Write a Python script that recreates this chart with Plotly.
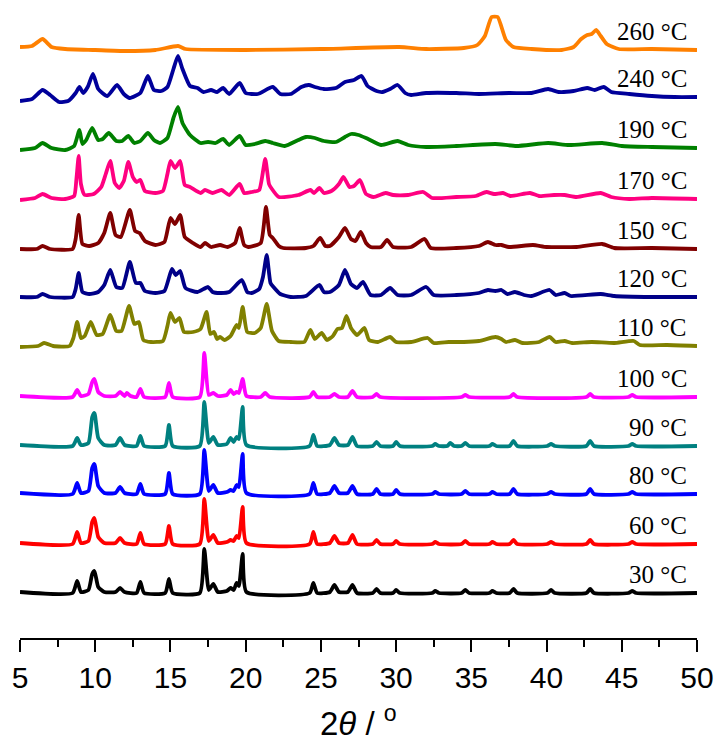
import plotly.graph_objects as go

# Temperatures (labels), colours and vertical stacking offsets (bottom to top)
temps = ["30 °C", "60 °C", "80 °C", "90 °C", "100 °C", "110 °C",
         "120 °C", "150 °C", "170 °C", "190 °C", "240 °C", "260 °C"]
offsets = [45, 94, 144, 192, 241, 292, 341, 389, 439, 490, 541, 588]
colors = ["#000000", "#FF0000", "#0000FF", "#008080", "#FF00FF", "#808000",
          "#000088", "#800000", "#FF0080", "#008000", "#00009A", "#FF8000"]

# Pattern vertices: (2theta, intensity above baseline)
p30 = [(5.0,1),(8.5,0),(8.8,12),(9.05,1),(9.55,3),(9.8,19),(9.95,22),(10.2,6),(10.6,1),(11.35,1),(11.65,5),(11.95,1),
       (12.75,0),(13.0,11),(13.25,0),(14.65,0),(14.9,14),(15.15,0),(16.95,0),(17.25,44),(17.55,3),(17.85,9),(18.15,1),
       (18.75,2),(19.0,5),(19.2,3),(19.4,10),(19.55,7),(19.8,39),(20.05,1),(24.25,0),(24.5,10),(24.75,0),(25.6,1),
       (25.9,8),(26.2,1),(26.8,1),(27.1,8),(27.4,0),(28.45,0),(28.7,4),(28.95,0),(29.8,0),(30.0,3),(30.25,0),(32.4,0),
       (32.6,2),(32.85,0),(34.35,0),(34.6,3),(34.85,0),(36.2,0),(36.4,2),(36.65,0),(37.55,0),(37.8,4),(38.05,0),
       (40.05,0),(40.3,3),(40.55,0),(42.65,0),(42.9,4),(43.15,0),(45.45,0),(45.7,2),(45.95,0),(50.0,0)]
p60 = [(5.0,1),(8.5,0),(8.8,12),(9.05,1),(9.55,3),(9.8,22),(9.95,26),(10.2,7),(10.6,1),(11.35,1),(11.65,6),(11.95,1),
       (12.75,0),(13.0,11),(13.25,0),(14.65,0),(14.9,18),(15.15,0),(16.95,0),(17.25,45),(17.55,3),(17.85,9),(18.15,1),
       (18.75,2),(19.0,4),(19.2,3),(19.4,8),(19.55,6),(19.8,37),(20.05,1),(24.25,0),(24.5,12),(24.75,0),(25.6,1),
       (25.9,8),(26.2,1),(26.8,1),(27.1,9),(27.4,0),(28.45,0),(28.7,4),(28.95,0),(29.8,0),(30.0,3),(30.25,0),(32.4,0),
       (32.6,2),(32.85,0),(34.35,0),(34.6,3),(34.85,0),(36.2,0),(36.4,2),(36.65,0),(37.55,0),(37.8,4),(38.05,0),
       (40.05,0),(40.3,2),(40.55,0),(42.65,0),(42.9,4),(43.15,0),(45.45,0),(45.7,2),(45.95,0),(50.0,0)]
p80 = [(5.0,1),(8.5,0),(8.8,11),(9.05,1),(9.55,3),(9.8,26),(9.95,30),(10.2,8),(10.6,1),(11.35,1),(11.65,7),(11.95,1),
       (12.75,0),(13.0,10),(13.25,0),(14.65,0),(14.9,21),(15.15,0),(16.95,0),(17.25,44),(17.55,3),(17.85,9),(18.15,1),
       (18.75,2),(19.0,4),(19.2,3),(19.4,9),(19.55,7),(19.8,40),(20.05,1),(24.25,0),(24.5,11),(24.75,0),(25.6,1),
       (25.9,8),(26.2,1),(26.8,1),(27.1,8),(27.4,0),(28.45,0),(28.7,5),(28.95,0),(29.8,0),(30.0,4),(30.25,0),(32.4,0),
       (32.6,2),(32.85,0),(34.35,0),(34.6,3),(34.85,0),(36.2,0),(36.4,2),(36.65,0),(37.55,0),(37.8,5),(38.05,0),
       (40.05,0),(40.3,2),(40.55,0),(42.65,0),(42.9,5),(43.15,0),(45.45,0),(45.7,2),(45.95,0),(50.0,0)]
p90 = [(5.0,1),(8.5,0),(8.8,8),(9.05,1),(9.55,3),(9.8,29),(9.95,33),(10.2,8),(10.6,1),(11.35,1),(11.65,8),(11.95,1),
       (12.75,0),(13.0,10),(13.25,0),(14.65,0),(14.9,21),(15.15,0),(16.95,0),(17.25,44),(17.55,3),(17.85,9),(18.15,1),
       (18.75,2),(19.0,8),(19.2,4),(19.4,9),(19.55,7),(19.8,39),(20.05,1),(24.25,0),(24.5,11),(24.75,0),(25.6,1),
       (25.9,8),(26.2,1),(26.8,1),(27.1,9),(27.4,0),(28.45,0),(28.7,4),(28.95,0),(29.8,0),(30.0,4),(30.25,0),(32.4,0),
       (32.6,2),(32.85,0),(33.4,0),(33.6,3),(33.85,0),(34.35,0),(34.6,3),(34.85,0),(36.2,0),(36.4,2),(36.65,0),
       (37.55,0),(37.8,5),(38.05,0),(40.05,0),(40.3,2),(40.55,0),(42.65,0),(42.9,5),(43.15,0),(45.45,0),(45.7,2),
       (45.95,0),(50.0,0)]
p100 = [(5.0,1),(8.5,0),(8.8,7),(9.05,1),(9.55,3),(9.8,15),(9.95,18),(10.2,5),(10.6,1),(11.35,1),(11.65,5),(11.95,1),
        (12.1,4),(12.35,1),(12.75,0),(13.0,8),(13.25,0),(14.65,0),(14.9,14),(15.15,0),(16.95,0),(17.25,44),(17.55,2),
        (17.85,4),(18.15,1),(18.75,2),(19.0,7),(19.2,3),(19.4,5),(19.55,4),(19.8,18),(20.05,1),(21.0,0),(21.3,4),
        (21.6,0),(24.25,0),(24.5,5),(24.75,0),(25.6,0),(25.9,3),(26.2,0),(26.8,0),(27.1,6),(27.4,0),(28.45,0),(28.7,3),
        (28.95,0),(34.35,0),(34.6,2),(34.85,0),(37.55,0),(37.8,3),(38.05,0),(42.65,0),(42.9,3),(43.15,0),(45.45,0),
        (45.7,2),(45.95,0),(50.0,0)]
p110 = [(5.0,-1),(6.2,0),(6.6,3),(7.2,0),(8.3,0),(8.55,8),(8.8,24),(9.05,8),(9.3,10),(9.7,24),(10.1,11),(10.5,12),
        (11.0,31),(11.4,15),(11.75,15),(12.25,40),(12.6,22),(12.9,24),(13.2,6),(13.7,4),(14.5,5),(14.8,20),(15.0,33),
        (15.3,24),(15.6,28),(15.9,14),(16.5,14),(17.0,17),(17.4,34),(17.65,12),(17.9,14),(18.1,7),(18.3,9),(18.6,6),
        (19.0,10),(19.4,21),(19.55,18),(19.8,39),(20.1,14),(20.6,13),(21.0,18),(21.4,42),(21.75,15),(22.2,5),(23.0,4),
        (23.9,4),(24.3,16),(24.6,7),(25.05,13),(25.4,6),(25.8,10),(26.1,17),(26.4,18),(26.7,30),(27.0,18),(27.4,11),
        (27.9,18),(28.2,6),(28.8,4),(29.6,9),(30.0,4),(31.0,4),(32.1,8),(32.5,3),(33.5,4),(34.5,4),(35.5,5),(36.6,9),
        (37.0,7),(37.3,4),(37.9,6),(38.4,3),(39.5,4),(40.2,9),(40.6,4),(41.2,5),(41.7,3),(43.0,4),(44.5,3),(45.8,5),
        (46.2,1),(48.0,1),(50.0,0)]
p120 = [(5.0,0),(6.1,0),(6.5,3),(7.0,0),(8.5,0),(8.7,8),(8.9,24),(9.15,5),(9.6,3),(10.2,5),(10.6,12),(11.0,27),
        (11.4,10),(11.8,9),(12.3,35),(12.7,14),(13.0,14),(13.3,6),(14.0,4),(14.6,6),(15.1,28),(15.35,22),(15.65,26),
        (16.0,9),(16.8,5),(17.5,10),(17.8,5),(18.3,4),(18.9,5),(19.75,17),(20.1,5),(20.4,4),(20.9,8),(21.15,20),
        (21.4,42),(21.65,14),(21.85,10),(22.3,3),(23.0,0),(24.0,1),(24.9,12),(25.2,5),(25.6,5),(26.2,12),(26.6,27),
        (27.0,13),(27.4,9),(27.8,15),(28.3,2),(29.0,2),(29.6,9),(30.1,2),(31.0,2),(32.0,10),(32.5,2),(34.0,2),
        (35.5,4),(36.1,7),(36.6,6),(37.0,7),(37.4,3),(37.9,5),(38.5,2),(39.0,1),(40.2,7),(40.6,2),(41.2,4),(41.6,1),
        (43.6,3),(44.5,1),(47.0,0),(50.0,0)]
p150 = [(5.0,0),(6.1,0),(6.5,3),(7.0,0),(8.5,0),(8.7,10),(8.9,34),(9.15,5),(9.6,3),(10.2,6),(10.6,16),(11.0,36),
        (11.35,14),(11.7,12),(12.3,39),(12.65,18),(12.95,16),(13.3,8),(14.0,4),(14.6,7),(15.0,31),(15.3,25),
        (15.65,34),(15.95,12),(16.5,6),(17.0,2),(17.3,6),(17.7,2),(18.3,4),(18.8,2),(19.3,6),(19.6,21),(19.9,4),
        (20.2,2),(21.0,6),(21.35,42),(21.6,14),(21.8,11),(22.2,3),(22.5,1),(24.0,1),(24.5,3),(24.95,11),(25.3,3),
        (25.6,3),(26.2,12),(26.6,21),(27.0,10),(27.3,8),(27.65,17),(28.0,6),(28.3,2),(29.0,2),(29.4,9),(29.8,2),
        (31.0,2),(31.9,10),(32.3,1),(34.0,1),(35.5,3),(36.1,7),(36.6,4),(37.0,4),(37.5,2),(39.1,4),(40.0,2),
        (42.0,2),(43.7,5),(44.5,1),(47.0,1),(50.0,0)]
p170 = [(5.0,-1),(6.0,1),(6.5,5),(7.1,1),(8.0,0),(8.6,3),(8.75,20),(8.9,43),(9.05,15),(9.3,4),(9.9,5),(10.4,12),
        (10.7,25),(11.0,38),(11.3,16),(11.6,11),(11.9,18),(12.2,37),(12.5,22),(12.75,17),(13.0,19),(13.3,8),(14.0,6),
        (14.5,8),(14.8,25),(15.0,38),(15.3,31),(15.65,38),(15.95,14),(16.3,12),(17.0,6),(17.3,9),(17.8,6),(18.4,9),
        (18.9,4),(19.6,15),(19.9,6),(20.4,7),(20.9,9),(21.3,40),(21.55,15),(21.7,11),(22.2,2),(23.5,4),(24.3,9),
        (24.55,6),(24.9,11),(25.2,6),(25.7,8),(26.2,15),(26.5,22),(26.9,12),(27.2,13),(27.6,19),(28.0,5),(28.5,2),
        (29.3,6),(29.8,4),(30.8,4),(31.8,7),(32.4,1),(34.0,2),(35.3,3),(36.0,7),(36.5,5),(37.1,6),(37.6,3),(38.9,6),
        (39.5,3),(40.5,4),(41.2,4),(42.0,2),(43.6,6),(44.3,2),(45.5,0),(47.0,1),(50.0,0)]
p190 = [(5.0,-2),(6.0,0),(6.5,5),(7.1,0),(8.0,-2),(8.6,2),(8.95,18),(9.15,4),(9.4,8),(9.8,20),(10.2,8),(10.5,9),
        (10.9,15),(11.4,7),(11.8,7),(12.2,12),(12.6,5),(13.0,7),(13.5,15),(13.9,8),(14.3,5),(14.8,10),(15.2,30),
        (15.5,41),(15.8,25),(16.3,13),(17.0,5),(17.5,6),(18.0,5),(18.5,9),(18.9,3),(19.6,12),(20.0,3),(20.6,4),
        (21.3,7),(21.8,5),(22.6,2),(23.5,8),(24.0,11),(24.6,10),(25.2,7),(26.0,6),(26.6,11),(27.0,14),(27.5,13),
        (28.0,10),(29.0,3),(30.1,7),(30.8,3),(32.0,1),(34.0,2),(36.6,4),(38.0,2),(40.1,5),(41.5,3),(43.7,5),(45.0,2),
        (47.0,1),(50.0,0)]
p240 = [(5.0,-4),(5.8,-2),(6.5,7),(7.0,2),(7.6,-5),(8.2,-4),(8.7,4),(8.95,10),(9.2,4),(9.5,10),(9.85,23),(10.2,8),
        (10.8,1),(11.45,12),(11.9,3),(12.3,-1),(13.0,4),(13.5,21),(13.9,7),(14.4,6),(14.8,10),(15.2,28),(15.5,41),
        (15.8,28),(16.3,11),(16.8,9),(17.2,5),(17.7,7),(18.1,5),(18.5,9),(18.9,3),(19.6,14),(20.0,4),(20.8,3),
        (21.8,10),(22.3,3),(23.0,3),(23.7,10),(24.2,12),(24.6,10),(25.2,8),(26.0,9),(26.6,15),(27.2,17),(27.7,21),
        (28.1,11),(28.7,6),(29.1,5),(29.6,8),(30.1,12),(30.6,4),(31.0,2),(32.0,4),(34.0,4),(35.5,3),(37.5,4),
        (39.0,4),(40.1,8),(40.8,5),(41.8,6),(42.7,9),(43.2,7),(43.8,10),(44.3,5),(45.5,3),(47.0,1),(48.5,0),(50.0,0)]
p260 = [(5.0,3),(5.8,4),(6.5,11),(7.1,3),(8.0,1),(10.0,0),(12.0,-1),(14.0,0),(15.5,4),(16.0,1),(20.0,0),(25.0,1),
        (30.2,3),(32.0,1),(34.5,2),(35.4,5),(35.9,14),(36.35,33),(36.75,33),(37.3,10),(37.8,3),(39.0,1),(41.0,0),
        (41.8,3),(42.3,11),(42.7,15),(43.0,16),(43.3,20),(43.6,14),(44.0,6),(44.8,1),(47.0,1),(50.0,0)]

patterns = [p30, p60, p80, p90, p100, p110, p120, p150, p170, p190, p240, p260]

fig = go.Figure()
for pat, off, col in zip(patterns, offsets, colors):
    fig.add_trace(go.Scatter(
        x=[p[0] for p in pat], y=[p[1] + off for p in pat],
        mode="lines", line=dict(color=col, width=3.8, shape="spline", smoothing=0.5),
        showlegend=False, hoverinfo="skip"))

for t, off in zip(temps, offsets):
    fig.add_annotation(x=49.5, y=off + 19, text=t, showarrow=False,
                       xanchor="right", yanchor="middle",
                       font=dict(family="Liberation Serif", size=25, color="black"))

fig.add_annotation(xref="paper", yref="paper", x=0.5, y=-0.13,
                   text="2<i>θ</i> / <sup>o</sup>", showarrow=False,
                   xanchor="center", yanchor="middle",
                   font=dict(family="Liberation Sans", size=33, color="black"))

fig.update_layout(
    width=718, height=746,
    margin=dict(l=20, r=21, t=0, b=108),
    paper_bgcolor="white", plot_bgcolor="white",
    xaxis=dict(range=[5, 50], dtick=5, tick0=5, showgrid=False, zeroline=False,
               showline=True, linecolor="black", linewidth=2,
               ticks="outside", ticklen=12, tickwidth=2, tickcolor="black",
               tickfont=dict(family="Liberation Sans", size=30, color="black"),
               minor=dict(ticks="outside", ticklen=7, tickwidth=2, tickcolor="black",
                          dtick=2.5, tick0=5)),
    yaxis=dict(range=[0, 638], visible=False, showgrid=False, zeroline=False),
)

fig.write_html("out.html")
